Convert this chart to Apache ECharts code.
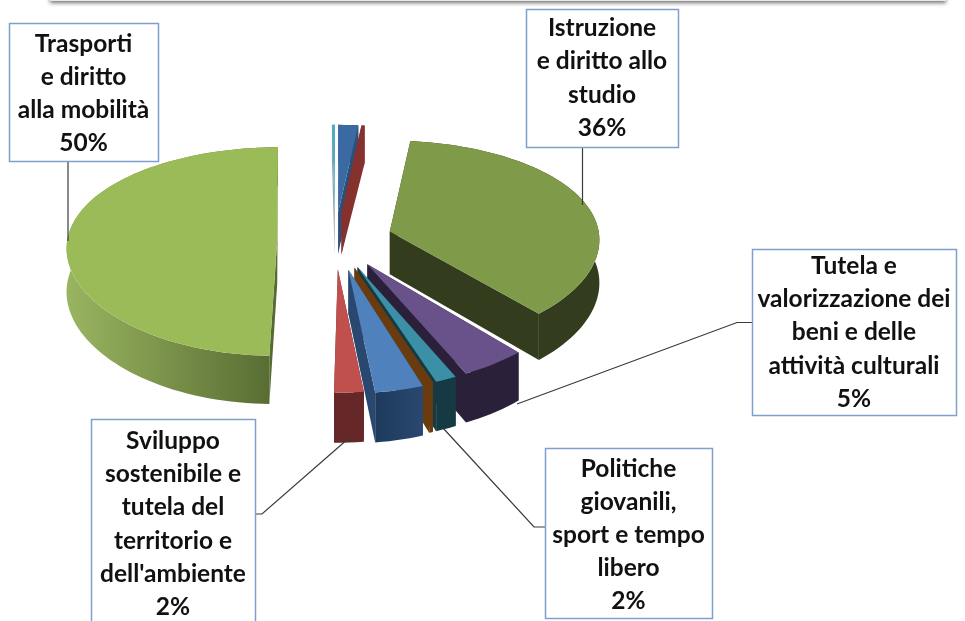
<!DOCTYPE html>
<html><head><meta charset="utf-8">
<style>html,body{margin:0;padding:0;background:#fff}#c{width:965px;height:621px}</style>
<script src="https://cdn.jsdelivr.net/npm/echarts@6/dist/echarts.min.js"></script>
</head><body><div id="c"></div>
<script>
// ---- data, clockwise from the start of the Trasporti slice
const sliceNames = ['Trasporti','Accessorio A','Accessorio B','Accessorio C','Istruzione','Tutela','Politiche','Accessorio D','Accessorio E','Sviluppo'];
const sliceValues = [49.5, 0.25, 1.65, 0.26, 36.45, 4.61, 1.5, 0.28, 3.42, 2.08];
const labelLines = [
  ['Trasporti','e diritto','alla mobilità','50%'],
  ['Istruzione','e diritto allo','studio','36%'],
  ['Tutela e','valorizzazione dei','beni e delle','attività culturali','5%'],
  ['Politiche','giovanili,','sport e tempo','libero','2%'],
  ['Sviluppo','sostenibile e','tutela del','territorio e',"dell'ambiente",'2%']
];
// ---- style
const topColors  = ['#9bbb59','#4bacc6','#3b6aa3','#85322f','#7f9a48','#69518a','#3b90a7','#6b3b10','#4f81bd','#c0504d'];
const wallColors = [['#9ab561','#566a31'],['#9aa0a8','#9aa0a8'],['#2c4f7c','#2c4f7c'],['#85322f','#85322f'],['#333d1e','#333d1e'],['#2a2039','#2a2039'],['#153a44','#153a44'],['#6b3b10','#6b3b10'],['#1d3b5c','#2a4770'],['#652727','#652727']];
const explodeScale = [1,1,1,1,1,1,1,1,1.04,1];
const drawOrder = [1,2,3,0,4,5,6,7,8,9];
const START = 181, EXPLODE = 0.275, CX = 335, CY = 240, RX = 210, RY = 103, PERSP_X = 0.065, PERSP_Y = 0.11, DEPTH = 43;
const total = sliceValues.reduce((a,b)=>a+b,0);
let acc = START;
const arcs = sliceValues.map(v=>{const a=acc; acc+=v/total*360; return [a,acc];});
const rad = d=>d*Math.PI/180;
function proj(x,y,down){const sx=1/(1+PERSP_X*y), s=1/(1+PERSP_Y*y);return [CX+RX*x*sx, CY-RY*y*s+(down?DEPTH*s:0)];}
function renderSlice(params, api){
  const i = api.value(0), a0 = arcs[i][0], a1 = arcs[i][1], m = rad((a0+a1)/2);
  const e = EXPLODE*explodeScale[i], ox = e*Math.sin(m), oy = e*Math.cos(m);
  const n = Math.max(2, Math.ceil((a1-a0)/2));
  const rim = [];
  for(let k=0;k<=n;k++){const t=rad(a0+(a1-a0)*k/n);rim.push([ox+Math.sin(t),oy+Math.cos(t)]);}
  const apex = [ox,oy];
  const P = (p,d)=>proj(p[0],p[1],d);
  const quad = (p,q)=>[P(p,0),P(q,0),P(q,1),P(p,1)];
  const wall = rim.map(p=>P(p,0)).concat(rim.slice().reverse().map(p=>P(p,1)));
  const top = [P(apex,0)].concat(rim.map(p=>P(p,0)));
  const c = wallColors[i], flat = c[0]===c[1];
  const fill = flat ? c[0] : new echarts.graphic.LinearGradient(0,0,1,0,[{offset:0,color:c[0]},{offset:1,color:c[1]}]);
  const side = c[1];
  const poly = (pts,f)=>({type:'polygon',shape:{points:pts},style:{fill:f,stroke:null}});
  return {type:'group',z2:drawOrder.indexOf(i),children:[
    poly(quad(apex,rim[0]),side),
    poly(quad(apex,rim[n]),side),
    poly(wall,fill),
    poly(top,topColors[i])
  ]};
}
// ---- label boxes: [x,y,w,h], text shift and leader polyline
const boxes = [
  {box:[9,23,149,138], dy:1.5, line:[[68,162],[68,241]]},
  {box:[526,9,152,138], dy:0, line:[[582.5,147],[582.5,205]]},
  {box:[752,249,204,166], dy:0.5, line:[[752,322.5],[737,322.5],[517,404]]},
  {box:[545,448,167,170], dy:2, line:[[545,527],[534,527],[443,428]]},
  {box:[91,419,164,210], dy:0, line:[[255,514],[262,514],[349,438]]}
];
const graphics = [
  {type:'rect',z:1,shape:{x:50,y:-20,width:896,height:21},style:{fill:'#e8e8e8',shadowBlur:4,shadowOffsetY:2,shadowColor:'rgba(0,0,0,0.55)'}}
];
boxes.forEach((b,i)=>{
  graphics.push({type:'polyline',z:20,shape:{points:b.line},style:{stroke:'#3a3a3a',lineWidth:1.2,fill:null}});
  graphics.push({type:'rect',z:21,shape:{x:b.box[0]+.5,y:b.box[1]+.5,width:b.box[2],height:b.box[3]},style:{fill:'#fff',stroke:'#7f9fd0',lineWidth:1.5}});
  const L = labelLines[i], lh = 33.2, y0 = b.box[1]+b.box[3]/2-(L.length-1)*lh/2+b.dy;
  L.forEach((t,k)=>graphics.push({type:'text',z:22,style:{x:b.box[0]+b.box[2]/2,y:y0+k*lh,text:t,align:'center',verticalAlign:'middle',fill:'#111',font:'bold 24.5px Lato'}}));
});
const chart = echarts.init(document.getElementById('c'),null,{renderer:'canvas'});
chart.setOption({
  animation:false,
  backgroundColor:'#fff',
  graphic:graphics,
  series:[{type:'custom',coordinateSystem:'none',silent:true,renderItem:renderSlice,
    data:drawOrder.map(i=>({name:sliceNames[i],value:[i,sliceValues[i]]}))}]
});
</script></body></html>
